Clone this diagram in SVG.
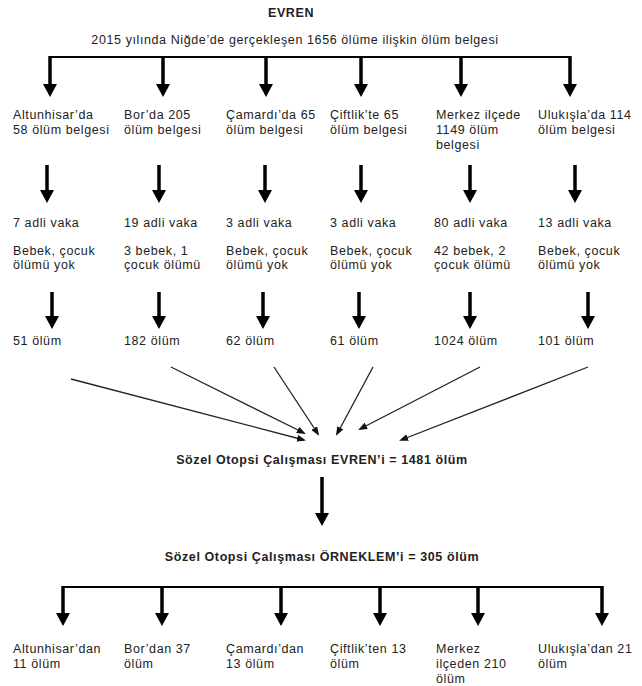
<svg xmlns="http://www.w3.org/2000/svg" width="642" height="686" viewBox="0 0 642 686">
<style>
text{font-family:"Liberation Sans",Arial,sans-serif;font-size:12.5px;fill:#222;letter-spacing:0.6px}
.b{font-weight:bold;text-anchor:middle}
.c{text-anchor:middle}
.bar{stroke:#000;stroke-width:2;fill:none}
.big{stroke:#000;stroke-width:3.5;fill:none;marker-end:url(#hb)}
.thin{stroke:#222;stroke-width:1.3;fill:none;marker-end:url(#hs)}
</style>
<defs>
<marker id="hb" viewBox="0 0 13 14" markerWidth="13" markerHeight="14" refX="4" refY="7" orient="auto" markerUnits="userSpaceOnUse"><path d="M0,0 L13,7 L0,14 Z" fill="#000"/></marker>
<marker id="hs" viewBox="0 0 9 7" markerWidth="9" markerHeight="7" refX="7" refY="3.5" orient="auto" markerUnits="userSpaceOnUse"><path d="M0,0 L9,3.5 L0,7 Z" fill="#111"/></marker>
</defs>
<g id="title"><text class="b" x="291" y="17">EVREN</text></g>
<g id="root"><text class="c" x="295" y="44">2015 yılında Niğde’de gerçekleşen 1656 ölüme ilişkin ölüm belgesi</text></g>
<g id="connectors">
<line class="bar" x1="50" y1="57" x2="571" y2="57"/>
<line class="big" x1="50" y1="56" x2="50" y2="88"/>
<line class="big" x1="163" y1="56" x2="163" y2="88"/>
<line class="big" x1="266" y1="56" x2="266" y2="88"/>
<line class="big" x1="361" y1="56" x2="361" y2="88"/>
<line class="big" x1="461" y1="56" x2="461" y2="88"/>
<line class="big" x1="570" y1="56" x2="570" y2="88"/>
<line class="big" x1="47" y1="165" x2="47" y2="194"/>
<line class="big" x1="159" y1="165" x2="159" y2="194"/>
<line class="big" x1="265" y1="165" x2="265" y2="194"/>
<line class="big" x1="361" y1="165" x2="361" y2="194"/>
<line class="big" x1="470" y1="165" x2="470" y2="194"/>
<line class="big" x1="575" y1="165" x2="575" y2="194"/>
<line class="big" x1="52" y1="292" x2="52" y2="320"/>
<line class="big" x1="159" y1="292" x2="159" y2="320"/>
<line class="big" x1="263" y1="292" x2="263" y2="320"/>
<line class="big" x1="359" y1="292" x2="359" y2="320"/>
<line class="big" x1="470" y1="292" x2="470" y2="320"/>
<line class="big" x1="588" y1="292" x2="588" y2="320"/>
<line class="thin" x1="71" y1="379" x2="304" y2="440"/>
<line class="thin" x1="171" y1="367" x2="304" y2="433"/>
<line class="thin" x1="274" y1="367" x2="318" y2="434"/>
<line class="thin" x1="373" y1="367" x2="337" y2="434"/>
<line class="thin" x1="480" y1="367" x2="360" y2="429"/>
<line class="thin" x1="588" y1="367" x2="401" y2="440"/>
<line class="big" x1="322" y1="477" x2="322" y2="517"/>
<line class="bar" x1="63" y1="587" x2="603" y2="587"/>
<line class="big" x1="63" y1="586" x2="63" y2="617"/>
<line class="big" x1="162" y1="586" x2="162" y2="617"/>
<line class="big" x1="281" y1="586" x2="281" y2="617"/>
<line class="big" x1="380" y1="586" x2="380" y2="617"/>
<line class="big" x1="478" y1="586" x2="478" y2="617"/>
<line class="big" x1="602" y1="586" x2="602" y2="617"/>
</g>
<g id="n-altunhisar"><text x="13" y="119">Altunhisar’da</text><text x="13" y="134">58 ölüm belgesi</text></g>
<g id="n-bor"><text x="124" y="119">Bor’da 205</text><text x="124" y="134">ölüm belgesi</text></g>
<g id="n-camardi"><text x="226" y="119">Çamardı’da 65</text><text x="226" y="134">ölüm belgesi</text></g>
<g id="n-ciftlik"><text x="330" y="119">Çiftlik’te 65</text><text x="330" y="134">ölüm belgesi</text></g>
<g id="n-merkez"><text x="436" y="119">Merkez ilçede</text><text x="436" y="134">1149 ölüm</text><text x="436" y="149">belgesi</text></g>
<g id="n-ulukisla"><text x="538" y="119">Ulukışla’da 114</text><text x="538" y="134">ölüm belgesi</text></g>
<g id="a-altunhisar"><text x="13" y="227">7 adli vaka</text><text x="13" y="255">Bebek, çocuk</text><text x="13" y="269">ölümü yok</text></g>
<g id="a-bor"><text x="124" y="227">19 adli vaka</text><text x="124" y="255">3 bebek, 1</text><text x="124" y="269">çocuk ölümü</text></g>
<g id="a-camardi"><text x="226" y="227">3 adli vaka</text><text x="226" y="255">Bebek, çocuk</text><text x="226" y="269">ölümü yok</text></g>
<g id="a-ciftlik"><text x="330" y="227">3 adli vaka</text><text x="330" y="255">Bebek, çocuk</text><text x="330" y="269">ölümü yok</text></g>
<g id="a-merkez"><text x="434" y="227">80 adli vaka</text><text x="434" y="255">42 bebek, 2</text><text x="434" y="269">çocuk ölümü</text></g>
<g id="a-ulukisla"><text x="538" y="227">13 adli vaka</text><text x="538" y="255">Bebek, çocuk</text><text x="538" y="269">ölümü yok</text></g>
<g id="r-altunhisar"><text x="13" y="345">51 ölüm</text></g>
<g id="r-bor"><text x="124" y="345">182 ölüm</text></g>
<g id="r-camardi"><text x="226" y="345">62 ölüm</text></g>
<g id="r-ciftlik"><text x="330" y="345">61 ölüm</text></g>
<g id="r-merkez"><text x="434" y="345">1024 ölüm</text></g>
<g id="r-ulukisla"><text x="538" y="345">101 ölüm</text></g>
<g id="evren"><text class="b" x="322" y="464">Sözel Otopsi Çalışması EVREN’i = 1481 ölüm</text></g>
<g id="orneklem"><text class="b" x="322" y="561">Sözel Otopsi Çalışması ÖRNEKLEM’i = 305 ölüm</text></g>
<g id="s-altunhisar"><text x="13" y="653">Altunhisar’dan</text><text x="13" y="668">11 ölüm</text></g>
<g id="s-bor"><text x="124" y="653">Bor’dan 37</text><text x="124" y="668">ölüm</text></g>
<g id="s-camardi"><text x="226" y="653">Çamardı’dan</text><text x="226" y="668">13 ölüm</text></g>
<g id="s-ciftlik"><text x="330" y="653">Çiftlik’ten 13</text><text x="330" y="668">ölüm</text></g>
<g id="s-merkez"><text x="436" y="653">Merkez</text><text x="436" y="668">ilçeden 210</text><text x="436" y="683">ölüm</text></g>
<g id="s-ulukisla"><text x="538" y="653">Ulukışla’dan 21</text><text x="538" y="668">ölüm</text></g>
</svg>
